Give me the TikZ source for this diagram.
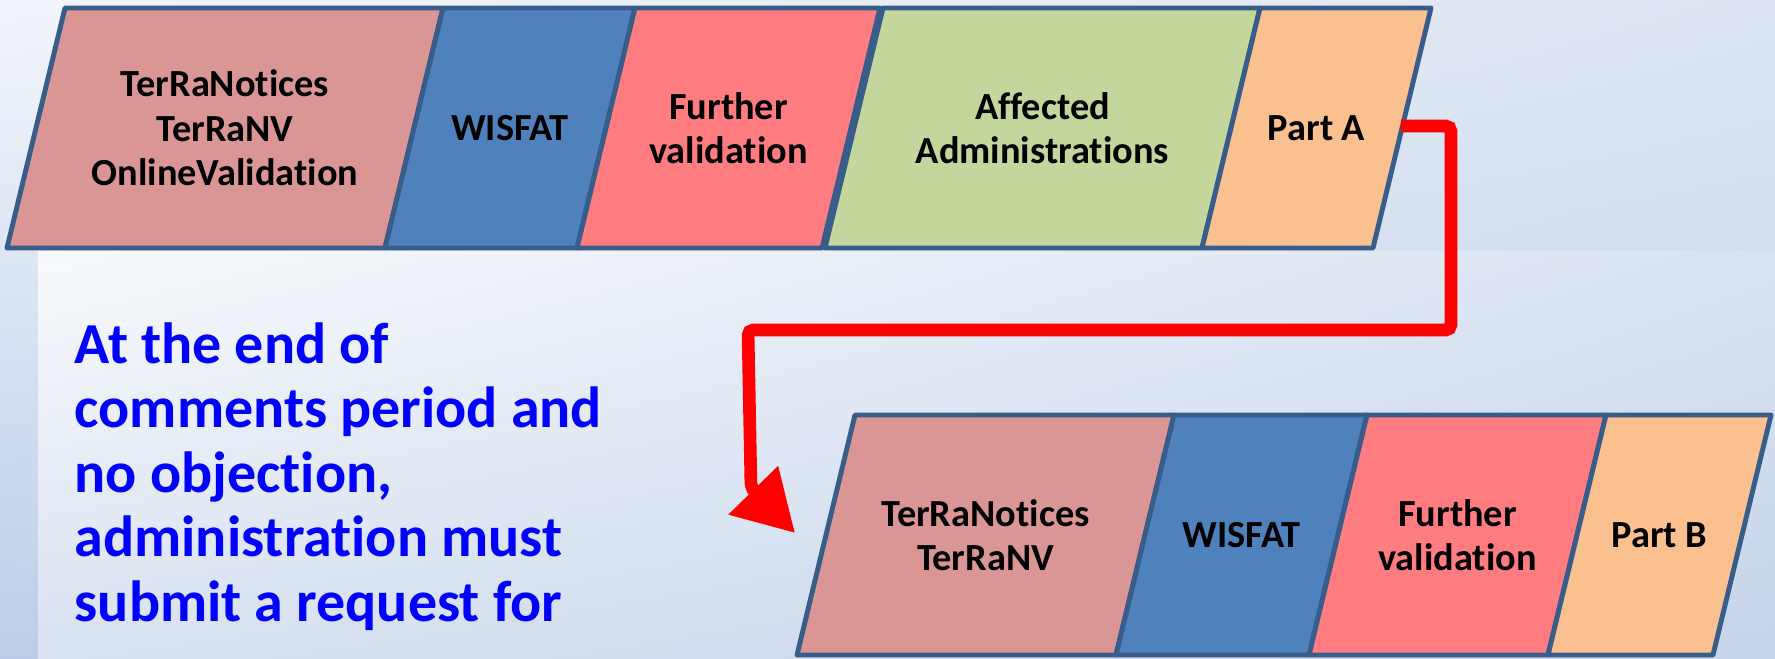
\documentclass[tikz,border=0pt]{standalone}
\usepackage{fontspec}
\setmainfont{Carlito}[Renderer=OpenType, Ligatures={NoCommon,NoContextual}, RawFeature={-liga;-clig;-calt}]
\usetikzlibrary{arrows.meta,shadings}
\definecolor{contour}{HTML}{385D8A}
\definecolor{rose}{HTML}{D99694}
\definecolor{bleu}{HTML}{4F81BD}
\definecolor{saumon}{HTML}{FF7C80}
\definecolor{vert}{HTML}{C3D69B}
\definecolor{peche}{HTML}{FAC090}
\definecolor{fondHG}{HTML}{F2F6FB}
\definecolor{fondHD}{HTML}{DCE5F1}
\definecolor{fondBG}{HTML}{BDCDE9}
\definecolor{fondBD}{HTML}{C3D3EA}
\definecolor{cadreHG}{HTML}{F8FAFD}
\definecolor{cadreHD}{HTML}{D9E3F0}
\definecolor{cadreBG}{HTML}{D8E2F0}
\definecolor{cadreBD}{HTML}{C5D5EA}
% nom, x bas gauche, x bas droite, y bas, couleur, texte
\newcommand{\etape}[6]{\filldraw[draw=contour, line width=1.4pt, line join=round, fill=#5] (#2,#4) -- (#3,#4) -- ++(58,-240) -- ({#2+58},{#4-240}) -- cycle;
  \node[align=center, font=\bfseries\fontsize{10.9}{12.6}\selectfont] (#1) at ({(#2+#3)/2+29},{#4-120}) {#6};}

\begin{document}
\begin{tikzpicture}[x=0.01cm, y=-0.01cm]
                \useasboundingbox (0,0) rectangle (1775,659);
                \shade[upper left=fondHG, upper right=fondHD, lower left=fondBG, lower right=fondBD] (0,0) rectangle (1775,659);
                \shade[upper left=cadreHG, upper right=cadreHD, lower left=cadreBG, lower right=cadreBD] (38,252) rectangle (1775,659);

                \etape{notices}{7}{385}{248}{rose}{TerRaNotices\\TerRaNV\\OnlineValidation}
                \etape{wisfat}{385}{577}{248}{bleu}{WISFAT}
                \etape{validation}{577}{822}{248}{saumon}{Further\\validation}
                \etape{affectees}{825}{1202}{248}{vert}{Affected\\Administrations}
                \etape{partA}{1202}{1373}{248}{peche}{Part A}

                \etape{noticesB}{797}{1116}{655}{rose}{TerRaNotices\\TerRaNV}
                \etape{wisfatB}{1116}{1309}{655}{bleu}{WISFAT}
                \etape{validationB}{1309}{1548}{655}{saumon}{Further\\validation}
                \etape{partB}{1548}{1713}{655}{peche}{Part B}

                \coordinate (depart) at (1401,126);
                \coordinate (arrivee) at (795,533);
                \draw[red, line width=3.6pt, rounded corners=1.5pt, -{Triangle[length=17pt, width=18.8pt]}] (depart) -- (1451,126) -- (1451,330) -- (748,330) -- (751,488) -- (arrivee);

                \node[anchor=north west, inner sep=0pt, align=left, text=blue, font=\bfseries\fontsize{16.5}{18.35}\selectfont] (consigne) at (74,322) {At the end of\\comments period and\\no objection,\\administration must\\submit a request for};
            \end{tikzpicture}
\end{document}
